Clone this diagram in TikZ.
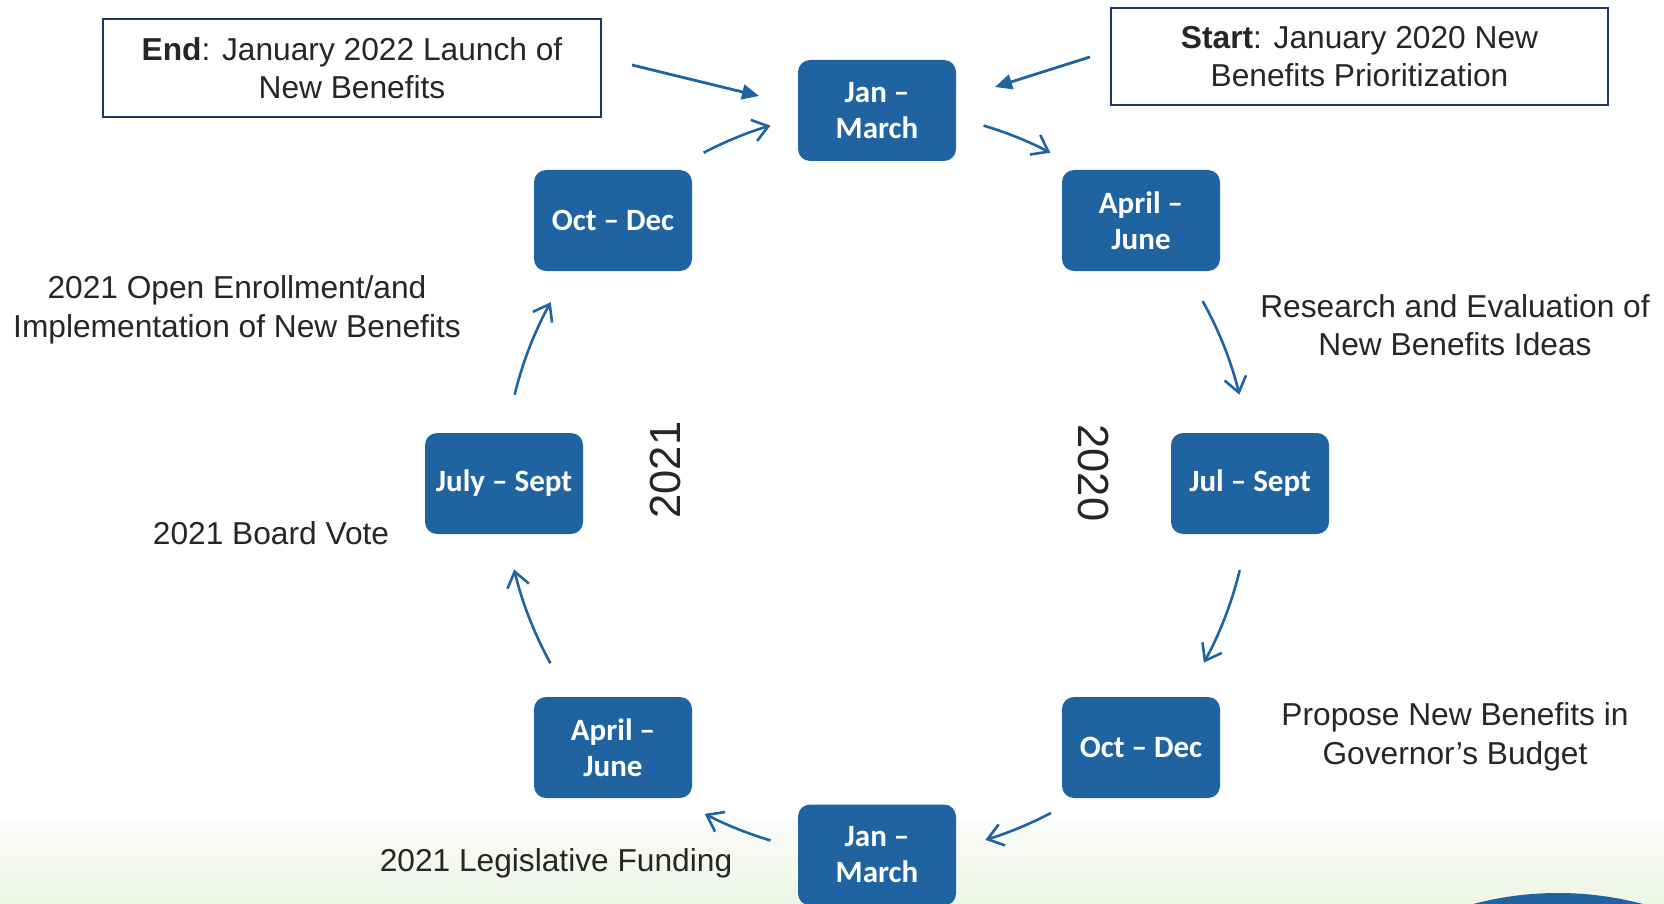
\documentclass[tikz,border=0pt]{standalone}
\usepackage{fontspec}
\setmainfont{Liberation Sans}
\newfontfamily\boxfont{Carlito}
\usetikzlibrary{arrows.meta,calc}
\definecolor{boxblue}{RGB}{31,99,160}
\definecolor{navy}{RGB}{32,56,100}
\definecolor{txt}{RGB}{38,38,38}
\definecolor{gtop}{RGB}{251,252,249}
\definecolor{gbot}{RGB}{238,246,230}
\tikzset{
  box/.style={fill=boxblue, rounded corners=12pt, minimum width=158pt, minimum height=101pt,
    inner sep=0pt, text=white, font=\boxfont\bfseries\fontsize{31}{36}\selectfont, align=center},
  lbl/.style={text=txt, font=\fontsize{31.7}{38.5}\selectfont, align=center, inner sep=0pt},
  note/.style={lbl, draw=navy, line width=1.8pt},
  year/.style={text=txt, font=\fontsize{43.5}{50}\selectfont, inner sep=0pt},
  cyc/.style={draw=boxblue, line width=2.6pt, -{Straight Barb[length=15pt,width=22pt]}},
  lead/.style={draw=boxblue, line width=2.8pt, -{Triangle[length=17pt,width=15pt]}}
}
\begin{document}
\begin{tikzpicture}[x=1pt,y=1pt]
\useasboundingbox (0,0) rectangle (1664,-904);
\clip (0,0) rectangle (1664,-904);
\shade[top color=gtop, bottom color=gbot] (0,-820) rectangle (1664,-904);
\fill[boxblue] (1558,-1223) circle (330);

\coordinate (C) at (877,-483);
% month boxes
\node[box] (jan1) at (877,-110.5) {Jan –\\March};
\node[box] (apr1) at (1141,-220.5) {April –\\June};
\node[box] (jul1) at (1250,-483.5) {Jul – Sept};
\node[box] (oct1) at (1141,-747.5) {Oct – Dec};
\node[box] (jan2) at (877,-855) {Jan –\\March};
\node[box] (apr2) at (613,-747.5) {April –\\June};
\node[box] (jul2) at (504,-483.5) {July – Sept};
\node[box] (oct2) at (613,-220.5) {Oct – Dec};

% start / end notes
\node[note, minimum width=498pt, minimum height=98pt] (endn) at (352,-68) {\textbf{End}: January 2022 Launch of\\New Benefits};
\node[note, minimum width=497pt, minimum height=97pt] (startn) at (1359.5,-56.5) {\textbf{Start}: January 2020 New\\Benefits Prioritization};

% labels
\node[lbl] (l1) at (1455,-325) {Research and Evaluation of\\New Benefits Ideas};
\node[lbl] (l2) at (1455,-737) {Propose New Benefits in\\Governor’s Budget};
\node[lbl] (l3) at (556,-863) {2021 Legislative Funding};
\node[lbl] (l4) at (271,-533) {2021 Board Vote};
\node[lbl] (l5) at (237,-310) {2021 Open Enrollment/and\\Implementation of New Benefits};
\node[year, rotate=90] (y21) at (666,-470) {2021};
\node[year, rotate=-90] (y20) at (1093,-473) {2020};

% lead arrows
\coordinate (es) at (632,-65);
\coordinate (ee) at (759,-96);
\coordinate (ss) at (1090,-57);
\coordinate (se) at (995,-87);
\draw[lead] (es) -- (ee);
\draw[lead] (ss) -- (se);

% cycle arcs
\foreach \a/\b [count=\i] in {73.4/62.3, 29.2/13.7, -13.5/-28.8, -62.2/-73.1,
    -106.6/-117.5, -151.1/-166.6, 166.3/151, 117.7/106.6} {
  \coordinate (c\i) at ($(C)+(\a:373)$);
  \draw[cyc] (c\i) arc[start angle=\a, end angle=\b, radius=373];
}
\end{tikzpicture}
\end{document}
